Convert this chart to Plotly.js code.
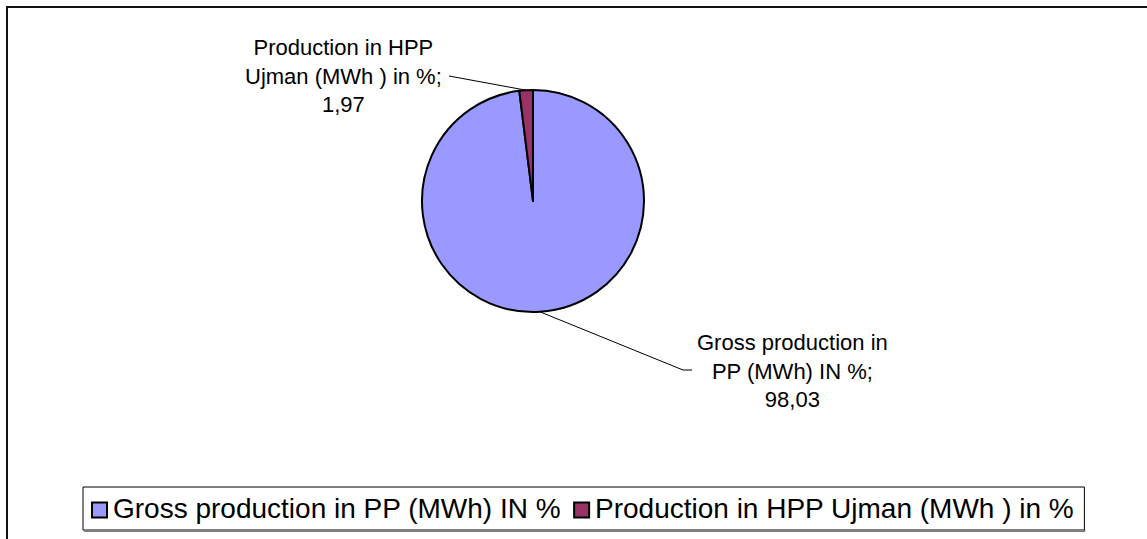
<!DOCTYPE html>
<html>
<head>
<meta charset="utf-8">
<script src="https://cdn.plot.ly/plotly-3.0.1.min.js"></script>
<style>
html,body{margin:0;padding:0;background:#fff;}
#chart{width:1147px;height:539px;}
</style>
</head>
<body>
<div id="chart"></div>
<script>
// ---- data ----
var sliceLabels = ["Gross production in PP (MWh) IN %", "Production in HPP Ujman (MWh ) in %"];
var sliceValues = [98.03, 1.97];
var sliceColors = ["#9999FF", "#993366"];

// ---- geometry (layout only) ----
var W = 1147, H = 539;
var cx = 533, cy = 201, R = 111;
var FONT = 'Liberation Sans, Arial, sans-serif';
function px(x){ return x / W; }
function py(y){ return 1 - y / H; }

function fmt(v){ return v.toFixed(2).replace('.', ','); }
function wrap(s, maxc){
  var words = s.split(' '), lines = [], cur = '';
  words.forEach(function(w){
    var t = cur ? cur + ' ' + w : w;
    if (t.length > maxc && cur){ lines.push(cur); cur = w; } else { cur = t; }
  });
  if (cur) lines.push(cur);
  return lines.join('<br>');
}
var ctx = document.createElement('canvas').getContext('2d');
function textW(s, size){ ctx.font = size + 'px "Liberation Sans", Arial, sans-serif'; return ctx.measureText(s).width; }

// mid-angle of each slice (clockwise from 12 o'clock)
var total = sliceValues.reduce(function(a,b){return a+b;},0);
var acc = 0, edgePts = [];
sliceValues.forEach(function(v){
  var mid = (acc + v/2) / total * 2 * Math.PI;
  edgePts.push([cx + R*Math.sin(mid), cy - R*Math.cos(mid)]);
  acc += v;
});

// label placements (layout)
var labelPos = [[792, 371], [343, 76]];
var leaderStart = [[[692, 370],[683, 370]], [[449, 76]]];

var annotations = sliceLabels.map(function(l, i){
  return {
    xref:'paper', yref:'paper', x:px(labelPos[i][0]), y:py(labelPos[i][1]),
    xanchor:'center', yanchor:'middle', showarrow:false, align:'center',
    text: wrap(l + ';', 19) + '<br>' + fmt(sliceValues[i]),
    font:{family:FONT, size:22, color:'#000'}
  };
});

var shapes = [];
sliceLabels.forEach(function(l, i){
  var pts = leaderStart[i].concat([edgePts[i]]);
  var d = pts.map(function(p, k){ return (k===0?'M':'L') + px(p[0]) + ',' + py(p[1]); }).join(' ');
  shapes.push({type:'path', xref:'paper', yref:'paper', path:d, line:{color:'#000', width:1}});
});
// outer chart frame
shapes.push({type:'rect', xref:'paper', yref:'paper', x0:px(7), x1:px(1170), y0:py(560), y1:py(7),
  line:{color:'#111', width:2}, fillcolor:'rgba(0,0,0,0)', layer:'below'});

// ---- legend (drawn with shapes + annotations) ----
var LFS = 28, legTop = 487, legBot = 530, legMid = 508.5;
var sq = 15, sqGap = 5, itemGap = 14, padR = 11;
var xCur = 92, boxLeft = 83;
var legShapes = [], legAnn = [];
sliceLabels.forEach(function(l, i){
  legShapes.push({type:'rect', xref:'paper', yref:'paper',
    x0:px(xCur), x1:px(xCur+sq), y0:py(legMid+1.5+sq/2), y1:py(legMid+1.5-sq/2),
    fillcolor:sliceColors[i], line:{color:'#000', width:2}});
  xCur += sq + sqGap;
  legAnn.push({xref:'paper', yref:'paper', x:px(xCur-1), y:py(legMid), xanchor:'left', yanchor:'middle',
    showarrow:false, text:l, font:{family:FONT, size:LFS, color:'#000'}});
  xCur += textW(l, LFS) + itemGap;
});
var boxRight = xCur - itemGap + padR;
shapes.push({type:'rect', xref:'paper', yref:'paper', x0:px(boxLeft), x1:px(boxRight), y0:py(legBot), y1:py(legTop),
  line:{color:'#000', width:1}, fillcolor:'#fff'});
shapes.push({type:'line', xref:'paper', yref:'paper', x0:px(boxLeft+1), x1:px(boxRight+1), y0:py(legBot+1), y1:py(legBot+1),
  line:{color:'#808080', width:2}});
shapes = shapes.concat(legShapes);
annotations = annotations.concat(legAnn);

var trace = {
  type:'pie', labels:sliceLabels, values:sliceValues, sort:false,
  direction:'clockwise', rotation:0, textinfo:'none', hoverinfo:'label+value',
  marker:{colors:sliceColors, line:{color:'#000', width:2}},
  domain:{x:[px(cx-R), px(cx+R)], y:[py(cy+R), py(cy-R)]}
};

var layout = {
  width:W, height:H, margin:{l:0,r:0,t:0,b:0},
  paper_bgcolor:'#fff', plot_bgcolor:'#fff',
  showlegend:false,
  annotations:annotations, shapes:shapes
};

Plotly.newPlot('chart', [trace], layout, {displayModeBar:false, staticPlot:true});
</script>
</body>
</html>
